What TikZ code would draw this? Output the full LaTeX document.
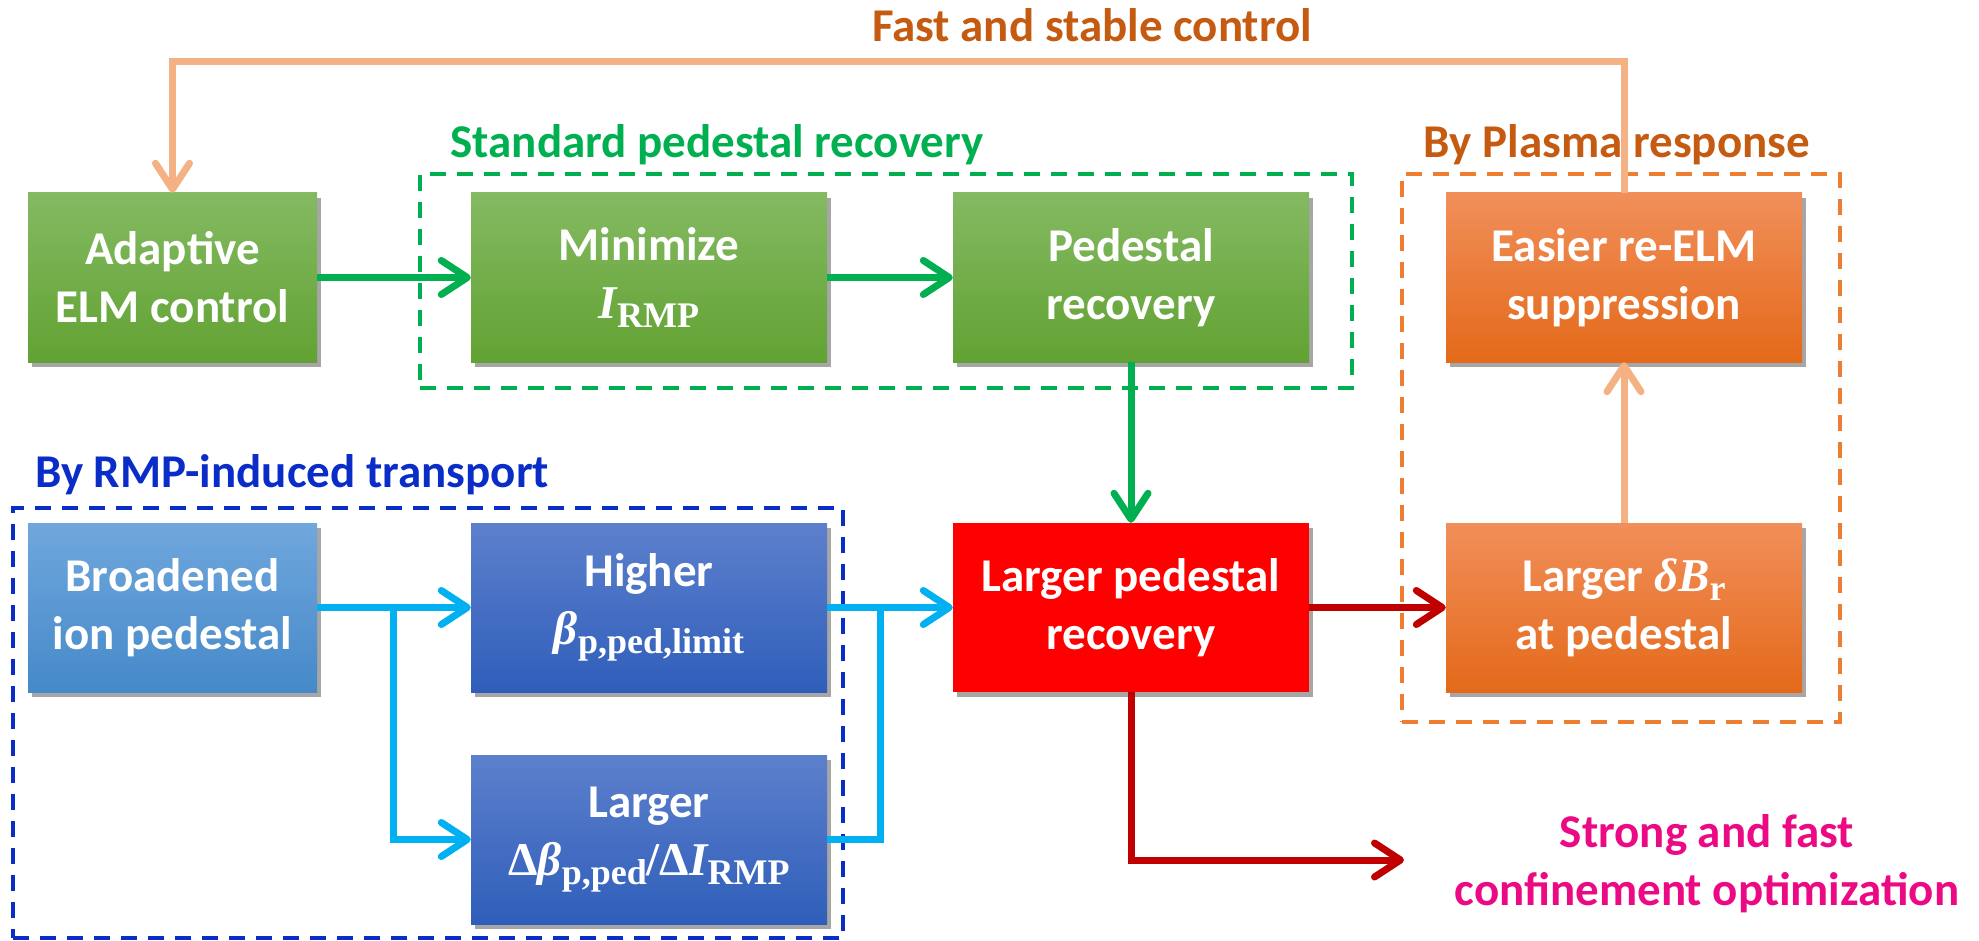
\documentclass[tikz,border=0pt]{standalone}
\usepackage{fontspec}
\setmainfont{Carlito}
\newfontfamily\mfont{Liberation Serif}
\newcommand\mvar[1]{{\mfont\bfseries\itshape #1}}
\newcommand\mup[1]{{\mfont\bfseries #1}}
\newcommand\msub[1]{\raisebox{-0.2em}{\fontsize{36}{36}\selectfont\mfont\bfseries #1}}
\usetikzlibrary{arrows.meta,shadows}
\definecolor{gTop}{HTML}{84BA62}
\definecolor{gBot}{HTML}{62A233}
\definecolor{lbTop}{HTML}{70A7DD}
\definecolor{lbBot}{HTML}{4589C9}
\definecolor{dbTop}{HTML}{5D80CC}
\definecolor{dbBot}{HTML}{2F5EBA}
\definecolor{oTop}{HTML}{F18F5A}
\definecolor{oBot}{HTML}{E4691A}
\definecolor{arrG}{HTML}{00B050}
\definecolor{arrB}{HTML}{00B0F0}
\definecolor{arrR}{HTML}{C00000}
\definecolor{arrO}{HTML}{F4B183}
\definecolor{txtO}{HTML}{C55A11}
\definecolor{txtB}{HTML}{0A2DC8}
\definecolor{txtP}{HTML}{EC0A84}
\definecolor{dashO}{HTML}{ED7D31}
\begin{document}
\begin{tikzpicture}[x=1pt,y=-1pt,
  boxfont/.style={font=\fontsize{47}{58}\selectfont\bfseries},
  blk/.style={boxfont, text=white, align=center, inner sep=0pt,
    minimum height=169pt,
    drop shadow={shadow xshift=4pt, shadow yshift=-5pt, opacity=0.35, fill=black}},
  narrowbox/.style={blk, minimum width=289pt},
  widebox/.style={blk, minimum width=356pt},
  greenbox/.style={top color=gTop, bottom color=gBot},
  lightbluebox/.style={top color=lbTop, bottom color=lbBot},
  darkbluebox/.style={top color=dbTop, bottom color=dbBot},
  orangebox/.style={top color=oTop, bottom color=oBot},
  redbox/.style={fill=red},
  tipstyle/.style={-{Straight Barb[length=26pt,width=34pt,round]}},
  conn/.style={line width=7pt},
  garrow/.style={conn, arrG, tipstyle},
  barrow/.style={conn, arrB, tipstyle},
  bline/.style={conn, arrB},
  rarrow/.style={conn, arrR, tipstyle},
  oarrow/.style={conn, arrO, tipstyle},
  grpbox/.style={line width=4pt, dash pattern=on 16pt off 11pt, inner sep=0pt},
  label/.style={boxfont, inner sep=0pt}
]
\useasboundingbox (0,0) rectangle (1979,941);

% group frames
\node[grpbox, draw=arrG, minimum width=932pt, minimum height=214pt] (stdgrp) at (886,281) {};
\node[grpbox, draw=dashO, minimum width=438pt, minimum height=548pt] (plgrp) at (1621,448) {};
\node[grpbox, draw=txtB, minimum width=830pt, minimum height=430pt] (rmpgrp) at (428,723) {};

% group labels
\node[label, text=txtO, anchor=base] (lfast) at (1092,42) {Fast and stable control};
\node[label, text=arrG, anchor=base] (lstd) at (717,158) {Standard pedestal recovery};
\node[label, text=txtO, anchor=base] (lpl) at (1617,158) {By Plasma response};
\node[label, text=txtB, anchor=base west] (lrmp) at (35,487) {By RMP-induced transport};
\node[label, text=txtP, align=center] (lstrong) at (1707,864) {Strong and fast\\confinement optimization};

% boxes
\node[narrowbox, greenbox] (adapt) at (172.5,277.5) {Adaptive\\ELM control};
\node[widebox, greenbox] (minim) at (649,277.5) {Minimize\\\mvar{I}\msub{RMP}};
\node[widebox, greenbox] (pedrec) at (1131,277.5) {Pedestal\\recovery};
\node[widebox, orangebox] (easier) at (1624,277.5) {Easier re-ELM\\suppression};
\node[narrowbox, lightbluebox] (broad) at (172.5,607.5) {Broadened\\ion pedestal};
\node[widebox, darkbluebox] (higher) at (649,607.5) {Higher\\\mvar{β}\msub{p,ped,limit}};
\node[widebox, darkbluebox] (ldb) at (649,839.5) {Larger\\\mup{Δ}\mvar{β}\msub{p,ped}\mup{/Δ}\mvar{I}\msub{RMP}};
\node[widebox, redbox] (lpr) at (1131,607.5) {Larger pedestal\\recovery};
\node[widebox, orangebox] (dbr) at (1624,607.5) {Larger \mvar{δB}\msub{r}\\at pedestal};

% coordinates
\coordinate (fbtop) at (1624,62);
\coordinate (j1) at (393,607.5);
\coordinate (j2) at (880,607.5);
\coordinate (rend) at (1404,860);

% connectors
\draw[oarrow] (easier.north) -- (easier.north |- fbtop) -| (adapt.north);
\draw[garrow] (adapt.east) -- (minim.west);
\draw[garrow] (minim.east) -- (pedrec.west);
\draw[garrow] (pedrec.south) -- (lpr.north);
\draw[barrow] (broad.east) -- (higher.west);
\draw[barrow] (j1) |- (ldb.west);
\draw[barrow] (higher.east) -- (lpr.west);
\draw[bline] (ldb.east) -| (j2);
\draw[rarrow] (lpr.east) -- (dbr.west);
\draw[rarrow] (lpr.south) |- (rend);
\draw[oarrow] (dbr.north) -- (easier.south);
\end{tikzpicture}
\end{document}
